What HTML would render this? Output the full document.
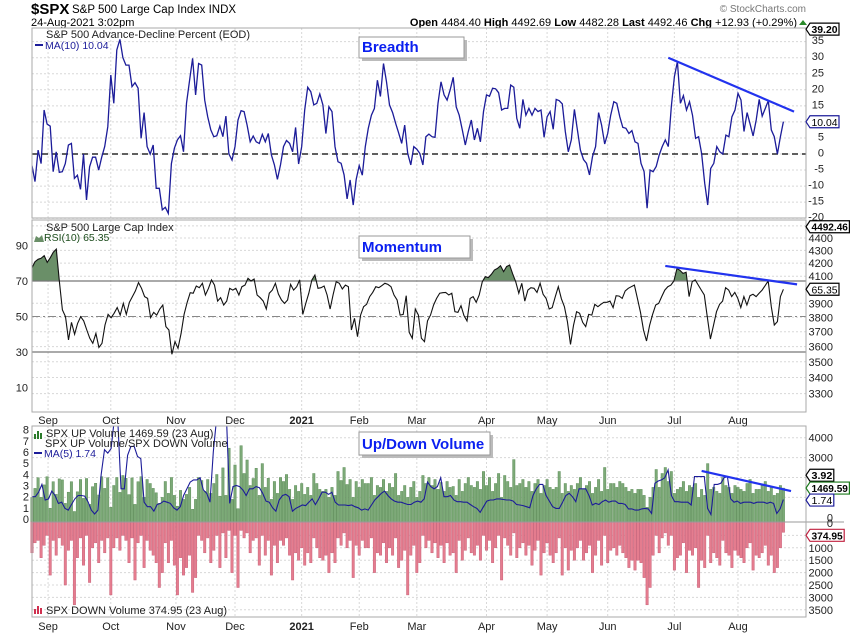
<!DOCTYPE html>
<html><head><meta charset="utf-8"><style>
html,body{margin:0;padding:0;background:#fff;}
svg{display:block;font-family:"Liberation Sans",sans-serif;}
</style></head><body>
<svg id="chart" width="850" height="633" viewBox="0 0 850 633" xmlns="http://www.w3.org/2000/svg">
<rect x="0" y="0" width="850" height="633" fill="#fff"/>
<g id="grid"></g>
<g id="marks"></g>
<g id="overlay"></g>
</svg>
<script>
const breadth=[-3.6,-8.6,1.2,-3,13.7,9.3,8.7,-5.5,0.7,-5.7,-5.5,-3,2.8,3.3,-7.6,-6.6,-11,0,-14.3,-4,-1,-1,-5,-1,2.3,8.5,24.6,15.8,32.4,35.7,30,27.7,27.7,21,22.2,20.5,4.9,12.9,2.3,0,2.8,-10.7,-10.7,-17.4,-16.6,-18.5,-3,1.8,4.4,5.7,0.7,15.8,23,29.8,18.4,28.2,27.7,16.8,11.6,7.5,5.4,5.7,8.7,5.4,11.8,0,-1.9,2.3,10.6,13.5,13.2,9,3.8,5.6,3.8,3.3,6.1,3.8,6.4,-0.3,-3.4,-7.9,-3.4,2.3,4.2,3.3,0.7,8.3,-3.1,2.3,13.7,20.8,19.4,15.3,15.8,18.7,15.3,6.4,14.7,13.2,2.3,-2.4,-2.9,-6.5,-14,-8.1,-15.9,-7.9,-3.6,-6.6,2.3,8,12.1,14.2,23,17.9,28.2,22.5,15.3,12.9,9.6,6.6,3.3,9,0.2,-3.4,2.3,1.5,0.2,
-3.4,5.4,6.2,5.4,5.2,15.8,22.5,18.4,16.8,19.9,23.9,14.7,12.1,7.5,2.8,7,10.6,4.4,8,3.8,13.2,18.4,18,20.5,20.3,19.1,13.7,14.2,14.2,21.5,20.8,11.1,8,17,12.1,14.2,12.1,14.2,13.2,13.7,5.2,11.6,13.2,7.7,17,16.6,15.6,7,0.7,4.4,13.9,7.5,1.2,-1.7,-2.9,-6.5,-0.8,2.3,12.9,9,3.1,6.4,12.1,16.3,15.8,11.6,8.3,8,6.4,7.3,3.8,3.3,-2.9,-5.5,-16.9,-5,-5.5,-3.9,-0.3,2.3,4.4,2.3,14.7,24.1,28.8,15.8,18.2,13.7,16.3,12.1,4.9,5.4,0.2,-9.1,-15.9,-4.5,-2.9,2.3,0.7,0,5.9,5.4,11.6,13.7,18.9,16.8,7,12.9,9.3,5.6,10.6,17,11.8,14.2,16.6,7.5,5.4,0,5.4,10.1];
const rsi=[77.5,80.9,82.2,82.8,84.3,80.5,83.1,86.2,88,69.6,53.7,49.9,36.8,46.7,40,46.1,49.9,47.5,42.4,37.7,34.9,40.5,32.6,34.9,45.2,51.2,49.3,51.8,55,50.8,57.4,51.2,58,61.2,64.4,69.1,65.9,61.2,60.2,49.3,52.3,50.8,54.2,56.5,44.3,42.4,28.7,35.8,32.1,40.5,51.2,58,63.4,63.1,67.2,66.2,68.7,62.1,65.9,70.6,67.7,58.7,60.6,56.5,58.7,65.9,64.9,65.9,62.1,66.8,67.7,71.5,70,71.1,62.1,60.6,58.7,54.2,63.1,64.9,68.7,62.7,59.3,57.4,59.3,68.1,64.9,66.8,70.6,51.2,57.4,63.1,70.6,73.4,65.9,66.2,67.2,62.1,54.2,62.5,69.6,68.7,65.5,67.7,66.8,42.4,49,38.6,50.8,55.5,56.9,61.2,63.6,66.8,66.2,67.4,68.7,68.1,66.8,62.1,59.3,50.8,51.2,61.7,41.1,37.7,54.2,50.8,37.7,
35.8,47.5,50.8,56.5,60.2,63.1,63.4,63.6,62.1,63.1,52.7,52.3,56.1,50.5,47.5,60.2,61.2,58,62.1,69.6,72.4,71.9,73.8,76.2,77.1,78.6,75.3,78.1,79,74,69.6,63.1,68.7,58.7,64.9,66.2,65.9,63.6,68.7,62.5,60.2,54.2,55,61.2,66.8,60,55.5,47.1,34.3,45,52.7,51.8,46.7,44.3,51.2,50.8,56.9,55.5,56.9,58,58,58.7,55,61.7,61.5,60.2,64.4,65.9,66.8,67.7,60.2,52.3,42.4,36.2,45,51.2,56.5,57.4,61.2,64.9,66.8,67.7,70,77.1,76,74.3,74.9,61.2,69.6,70.6,67.7,64.9,62.1,49.3,37.3,45,52.7,56.9,58.7,66.2,64.9,61.2,63.6,60.2,55,61.2,56.5,61.7,62.5,61.2,63.1,64.9,67.4,70,55.5,45.2,47.1,61.2,65.35];
const upVol=[1000,1450,1990,1000,1630,2040,450,1790,1150,1930,1880,700,1260,1790,290,1280,1900,950,1950,650,1540,1710,1120,2040,1450,1990,500,1600,2000,1250,2100,1960,1140,1980,650,1790,2040,1000,1900,1700,1450,1230,700,1000,1800,1200,2000,1100,560,1350,900,1150,1500,400,900,2000,1850,1300,1900,1200,1700,2150,1060,2480,1100,3470,900,2630,430,3600,2200,2880,1600,1950,2460,1100,2700,1500,1960,900,1800,1200,2000,1800,2150,1400,900,1600,1300,1700,1150,1500,1100,2200,1700,1400,1300,1400,1000,1500,1100,2300,1850,2500,1650,1900,1000,1800,1500,1900,1700,1700,2000,1100,1600,1500,1900,1300,1700,1500,2200,1100,1300,1600,1000,1500,1800,1000,1300,2100,1700,2000,1600,1900,1400,1750,1300,1800,1500,1550,1100,1900,1300,1700,2000,1600,1500,1800,1400,2300,1600,2000,1300,1700,2200,1000,2100,1800,1500,2900,1600,1700,1900,1500,1800,1300,1700,1900,1200,1600,1900,1500,1400,1500,2300,1200,1700,1300,1600,1400,1700,2000,1400,1600,1800,1200,1500,1900,1300,2500,1400,1700,1700,1500,1800,1700,1500,1300,1400,1200,1400,1400,1100,500,1000,1500,2400,1500,2200,2500,1800,2300,1200,1400,1500,1800,1300,1600,1500,1700,1000,1400,1100,2700,1400,1500,1300,1200,2000,1600,1500,1200,1600,1500,1400,1300,1700,1900,1200,1400,1400,1600,1800,1300,1500,1100,1200,1600,1469.59];
const downVol=[1200,800,700,1400,900,500,2100,700,1300,600,900,2500,1100,700,3300,1400,600,1700,500,2400,1000,800,1600,700,1200,600,2900,1000,600,1100,500,700,1600,600,2300,800,500,1800,700,1100,1300,1600,2600,2000,800,1600,700,1700,2900,1400,2100,1800,1300,2800,2200,500,700,1200,600,1600,1100,500,1800,400,1400,300,2000,500,2600,300,600,400,1200,700,600,1700,500,1300,700,2100,900,1600,700,900,600,1300,2300,1200,1500,1000,1700,1200,1600,600,1000,1400,1500,1300,2000,1200,1600,600,900,400,1000,700,2200,900,1300,700,1000,1000,600,2000,1200,1300,800,1600,1000,1300,600,1800,1500,1100,2900,1300,900,2000,1600,500,1000,700,1200,800,1400,900,1600,800,1300,1200,2000,700,1500,1100,600,1200,1300,900,1500,500,1100,700,1600,1000,500,2300,600,900,1300,400,1400,1000,800,1300,900,1700,1100,700,2100,1200,800,1300,1600,1200,600,2100,1000,1900,1100,1500,1000,700,1500,1200,900,2000,1300,700,1700,500,1600,1100,1000,1300,900,1200,1400,1800,1500,1900,1500,1600,2200,3300,2600,1300,500,1200,600,400,900,500,1900,1400,1300,800,2000,1100,1300,1000,2600,1500,1800,500,1600,1200,1400,1700,700,1200,1300,1800,1100,1300,1400,1600,1000,800,1900,1300,1400,1200,900,1700,1300,2000,1800,1000,374.95];
const ratioMA=[2.0,2.0,2.4,3.1,1.7,1.8,2.5,2.1,1.4,1.5,0.95,0.8,1.3,1.8,2.1,2.1,2.05,1.55,0.8,0.45,0.8,4.0,6.2,5.9,6.3,9,9,2.7,2.7,5.7,6.5,6.5,5.6,5.4,1.5,1.1,1.1,0.7,1.3,1.4,1.6,1.5,1.4,1.0,0.8,1.1,2.1,2.7,3.3,3.5,3.5,3.7,2.6,2.3,1.5,6.0,9,9,9,9,1.4,2.9,3.0,2.9,2.6,2.1,2.7,2.7,2.9,2.8,2.3,1.6,1.5,1.0,0.7,1.7,2.1,2.2,2.0,0.7,0.95,1.1,1.25,1.2,1.5,1.8,1.3,1.8,2.4,2.4,2.2,2.4,1.5,1.25,1.25,1.25,1.2,1.25,1.1,1.0,0.8,0.9,0.8,1.25,1.7,2.0,2.3,2.5,2.1,1.8,1.6,1.5,1.5,1.4,1.3,1.3,1.5,1.6,1.5,1.8,3.3,2.9,2.7,
2.9,3.7,2.0,2.0,2.1,1.7,1.55,1.55,1.5,1.5,1.3,1.1,0.95,0.6,1.1,1.6,1.7,1.7,1.8,1.8,1.75,1.7,1.7,1.6,1.3,1.25,1.2,1.1,1.0,2.1,2.7,3.1,3.1,2.1,1.6,1.1,0.95,0.95,1.5,2.1,2.3,2.0,1.55,2.7,2.7,2.7,2.1,1.25,1.4,1.3,1.55,1.7,1.5,1.6,1.6,1.4,1.4,1.3,0.9,0.9,0.8,0.8,0.9,0.95,0.9,0.5,3.2,3.4,3.5,3.7,4.4,2.1,1.55,1.55,1.5,1.5,1.5,1.25,3.8,3.8,3.8,3.8,0.95,0.4,3.1,3.1,3.2,3.7,3.8,1.8,1.5,1.6,1.4,1.5,1.5,1.5,1.4,1.5,1.5,1.5,1.4,1.5,1.4,0.5,0.9,1.74];
const monthLabels=["Sep","Oct","Nov","Dec","2021","Feb","Mar","Apr","May","Jun","Jul","Aug"];
const monthDays=[5.3,26,47.5,67,89,108,127,150,170,190,212,233];
const breadthTicks=[35,30,25,20,15,10,5,0,-5,-10,-15,-20];
const rsiTicks=[90,70,50,30,10];
const priceTicks=[4400,4300,4200,4100,3900,3800,3700,3600,3500,3400,3300];
const upTicks=[4000,3000,0];
const upGrid=[4000,3000,2000,1000];
const downTicks=[0,1000,1500,2000,2500,3000,3500];
const ratioTicks=[8,7,6,5,4,3,2,1,0];
const breadthTrend=[[210,30],[251.5,13.2]];
const rsiTrend=[[209,78.5],[252.5,68.1]];
const ratioTrend=[[221,4.3],[250.5,2.5]];

const NS="http://www.w3.org/2000/svg";
const L=32,R=806,DAYS=248,STEP=3.03;
const P1={t:28,b:218},P2={t:220,b:412},P3={t:426,b:617};
const xDay=d=>L+d*STEP;
const xIdx=(i,n)=>xDay(i*DAYS/(n-1));
const yB=v=>154-3.21*v;
const yR=v=>281-(v-70)*1.775;
const yP=p=>238+541*(Math.log(4400)-Math.log(p));
const yUp=v=>517.3-0.0199*v;
const yDn=v=>523+0.0248*v;
const yRatio=r=>519-11.17*r;

function mk(tag,attrs,parent,txt){const e=document.createElementNS(NS,tag);for(const k in attrs)e.setAttribute(k,attrs[k]);if(txt!==undefined)e.textContent=txt;(parent||document.getElementById('marks')).appendChild(e);return e;}
const grid=document.getElementById('grid'),marks=document.getElementById('marks'),over=document.getElementById('overlay');

const defs=mk('defs',{},document.getElementById('chart'));
[['c1',P1],['c2',P2],['c3',P3]].forEach(([id,p])=>{const c=mk('clipPath',{id:id},defs);mk('rect',{x:L,y:p.t,width:R-L,height:p.b-p.t},c);});
const cAbove=mk('clipPath',{id:'cabove'},defs);mk('rect',{x:L,y:P2.t,width:R-L,height:yR(70)-P2.t},cAbove);

[P1,P2,P3].forEach((p,k)=>{
  monthDays.forEach(d=>{const gl=mk('line',{x1:xDay(d),x2:xDay(d),y1:p.t,y2:p.b,stroke:'#d8d8d8','stroke-dasharray':'2,2'},grid);
  
  });
});
breadthTicks.forEach(v=>{mk('line',{x1:L,x2:R,y1:yB(v),y2:yB(v),stroke:'#d8d8d8','stroke-dasharray':'2,2'},grid);});
priceTicks.concat([4500]).forEach(v=>{mk('line',{x1:L,x2:R,y1:yP(v),y2:yP(v),stroke:'#d8d8d8','stroke-dasharray':'2,2'},grid);});
upGrid.forEach(v=>{mk('line',{x1:L,x2:R,y1:yUp(v),y2:yUp(v),stroke:'#d8d8d8','stroke-dasharray':'2,2'},grid);});
downTicks.concat([500]).forEach(v=>{if(v>0)mk('line',{x1:L,x2:R,y1:yDn(v),y2:yDn(v),stroke:'#d8d8d8','stroke-dasharray':'2,2'},grid);});

const h=mk('text',{x:31,y:14,'font-size':15,'font-weight':'bold',fill:'#000'},over,'$SPX');

const hn=mk('text',{x:72,y:13,'font-size':11.5,fill:'#000'},over,'S&P 500 Large Cap Index  INDX');

const hd=mk('text',{x:31,y:26,'font-size':11,fill:'#000'},over,'24-Aug-2021 3:02pm');

const sc=mk('text',{x:806,y:12,'font-size':10,fill:'#777','text-anchor':'end'},over,'© StockCharts.com');

const q=mk('text',{x:797,y:26,'font-size':11,fill:'#000','text-anchor':'end'},over);

[['Open',' 4484.40  '],['High',' 4492.69  '],['Low',' 4482.28  '],['Last',' 4492.46  '],['Chg',' +12.93 (+0.29%)']].forEach(([a,b])=>{mk('tspan',{'font-weight':'bold'},q,a);mk('tspan',{},q,b);});
mk('path',{d:'M799 25 L803 20 L807 25 Z',fill:'#2a8a2a'},over);

mk('line',{x1:L,x2:R,y1:yB(0),y2:yB(0),stroke:'#000','stroke-dasharray':'6,4','stroke-width':1.2});
let d='';breadth.forEach((v,i)=>{d+=(i?'L':'M')+xIdx(i,breadth.length).toFixed(1)+' '+yB(v).toFixed(1);});
const bl=mk('path',{d:d,fill:'none',stroke:'#1c1c99','stroke-width':1.3,'clip-path':'url(#c1)'});

const bt=mk('line',{x1:xDay(breadthTrend[0][0]),y1:yB(breadthTrend[0][1]),x2:xDay(breadthTrend[1][0]),y2:yB(breadthTrend[1][1]),stroke:'#2233ee','stroke-width':2.2});


const rx=i=>xIdx(i,rsi.length);
let ad='M'+rx(0)+' '+yR(70);rsi.forEach((v,i)=>{ad+='L'+rx(i).toFixed(1)+' '+yR(v).toFixed(1);});ad+='L'+rx(rsi.length-1)+' '+yR(70)+'Z';
const fa=mk('path',{d:ad,fill:'#6a8f68','clip-path':'url(#cabove)'});

mk('line',{x1:L,x2:R,y1:yR(70),y2:yR(70),stroke:'#777','stroke-width':1.2});
mk('line',{x1:L,x2:R,y1:yR(30),y2:yR(30),stroke:'#777','stroke-width':1.2});
mk('line',{x1:L,x2:R,y1:yR(50),y2:yR(50),stroke:'#888','stroke-dasharray':'8,3,2,3'});
d='';rsi.forEach((v,i)=>{d+=(i?'L':'M')+rx(i).toFixed(1)+' '+yR(v).toFixed(1);});
const rl=mk('path',{d:d,fill:'none',stroke:'#111','stroke-width':1.1,'clip-path':'url(#c2)'});

const rt=mk('line',{x1:xDay(rsiTrend[0][0]),y1:yR(rsiTrend[0][1]),x2:xDay(rsiTrend[1][0]),y2:yR(rsiTrend[1][1]),stroke:'#2233ee','stroke-width':2.2});


upVol.forEach((v,i)=>{const x=xIdx(i,upVol.length)-1.2;const y=Math.min(yUp(v),522);
  const b=mk('rect',{x:x.toFixed(1),y:y.toFixed(1),width:2.4,height:(522-y).toFixed(1),fill:'#7daa78',stroke:'#5f8f5a','stroke-width':0.5});
  
  });
downVol.forEach((v,i)=>{const x=xIdx(i,downVol.length)-1.2;const y=yDn(v);
  const b=mk('rect',{x:x.toFixed(1),y:522,width:2.4,height:(y-522).toFixed(1),fill:'#e57d8f',stroke:'#c9637a','stroke-width':0.5});
  
  });
mk('line',{x1:L,x2:R+38,y1:522,y2:522,stroke:'#999','stroke-width':1});
d='';ratioMA.forEach((v,i)=>{d+=(i?'L':'M')+xIdx(i,ratioMA.length).toFixed(1)+' '+yRatio(v).toFixed(1);});
const ml=mk('path',{d:d,fill:'none',stroke:'#1c1c99','stroke-width':1.1,'clip-path':'url(#c3)'});

const vt=mk('line',{x1:xDay(ratioTrend[0][0]),y1:yRatio(ratioTrend[0][1]),x2:xDay(ratioTrend[1][0]),y2:yRatio(ratioTrend[1][1]),stroke:'#2233ee','stroke-width':2.2});


[P1,P2,P3].forEach(p=>{mk('rect',{x:L,y:p.t,width:R-L,height:p.b-p.t,fill:'none',stroke:'#aaa','stroke-width':1},over);});

function lab(x,y,t,anchor,name,extra){const e=mk('text',Object.assign({x:x,y:y+4,'font-size':11,fill:'#222','text-anchor':anchor||'end'},extra||{}),over,t);return e;}
breadthTicks.forEach(v=>{if(v!==10)lab(824,yB(v)-1.5,String(v),'end','breadth-axis-tick');});
rsiTicks.forEach(v=>lab(28,yR(v),String(v),'end','rsi-axis-tick'));
priceTicks.forEach(v=>lab(833,yP(v),String(v),'end','price-axis-tick'));
upTicks.forEach(v=>lab(833,yUp(v),String(v),'end','up-volume-axis-tick'));
downTicks.forEach(v=>lab(833,yDn(v),String(v),'end','down-volume-axis-tick'));
ratioTicks.forEach(v=>lab(29,yRatio(v),String(v),'end','ratio-axis-tick'));
[420,626].forEach(y=>monthLabels.forEach((m,k)=>{const e=mk('text',{x:xDay(monthDays[k]),y:y+4,'font-size':11,fill:'#222','text-anchor':'middle','font-weight':m==='2021'?'bold':'normal'},over,m);
  
  }));

function tag(yc,t,col,bold,name){const w=t.length*5.2+3;
  const p=mk('path',{d:`M806 ${yc} L810 ${yc-6} L${810+w} ${yc-6} L${810+w} ${yc+6} L810 ${yc+6} Z`,fill:'#fff',stroke:col,'stroke-width':1.2},over);
  
  mk('text',{x:811.5,y:yc+4,'font-size':10.5,'font-weight':bold?'bold':'normal',fill:'#000',textLength:(w-3).toFixed(1),lengthAdjust:'spacingAndGlyphs'},over,t);}
tag(yB(35)-12.5,'39.20','#000',true,'breadth-last-tag');
tag(yB(10.04),'10.04','#1c1c99',false,'breadth-ma-tag');
tag(yP(4492.46),'4492.46','#000',true,'price-last-tag');
tag(yR(65.35),'65.35','#000',false,'rsi-value-tag');
tag(yRatio(3.92),'3.92','#000',true,'ratio-last-tag');
tag(yUp(1469.59),'1469.59','#1a7a1a',true,'up-volume-tag');
tag(yRatio(1.74)+0.5,'1.74','#1c1c99',false,'ratio-ma-tag');
tag(yDn(374.95)+3,'374.95','#c0203f',true,'down-volume-tag');

function txt(x,y,t,col,name,size){const e=mk('text',{x:x,y:y,'font-size':size||11,fill:col},over,t);return e;}
txt(46,38,'S&P 500 Advance-Decline Percent (EOD)','#222','breadth-title');
mk('line',{x1:35,x2:43,y1:45,y2:45,stroke:'#1c1c99','stroke-width':2},over);
txt(45,49,'MA(10) 10.04','#1c1c99','breadth-ma-legend',10.5);
txt(46,231,'S&P 500 Large Cap Index','#222','momentum-title');
mk('path',{d:'M34 242 L36 236 L39 238 L42 235 L44 242 Z',fill:'#6a8f68'},over);
txt(44,241,'RSI(10) 65.35','#1d4d1d','rsi-legend',10.5);
mk('path',{d:'M34 439 h2 v-5 h-2 Z M37 439 h2 v-8 h-2 Z M40 439 h2 v-6 h-2 Z',fill:'#2a7a2a'},over);
txt(46,437,'SPX UP Volume 1469.59 (23 Aug)','#222','up-volume-legend');
txt(45,447,'SPX UP Volume/SPX DOWN Volume','#222','ratio-title');
mk('line',{x1:34,x2:42,y1:453,y2:453,stroke:'#1c1c99','stroke-width':2},over);
txt(44,457,'MA(5) 1.74','#1c1c99','ratio-ma-legend',10.5);
mk('path',{d:'M34 614 h2 v-5 h-2 Z M37 614 h2 v-8 h-2 Z M40 614 h2 v-6 h-2 Z',fill:'#d0304f'},over);
txt(46,614,'SPX DOWN Volume 374.95 (23 Aug)','#222','down-volume-legend');

function box(x,y,w,hh,t,name){mk('rect',{x:x+3,y:y+3,width:w,height:hh,fill:'#bbb'},over);
  const r=mk('rect',{x:x,y:y,width:w,height:hh,fill:'#fff',stroke:'#999','stroke-width':1},over);
  
  mk('text',{x:x+3,y:y+hh-6,'font-size':15,'font-weight':'bold',fill:'#0a1ff0'},over,t);}
box(359,37,105,21,'Breadth','breadth-annotation');
box(359,236,111,22,'Momentum','momentum-annotation');
box(359,432,131,23,'Up/Down Volume','updown-volume-annotation');
</script>
</body></html>
